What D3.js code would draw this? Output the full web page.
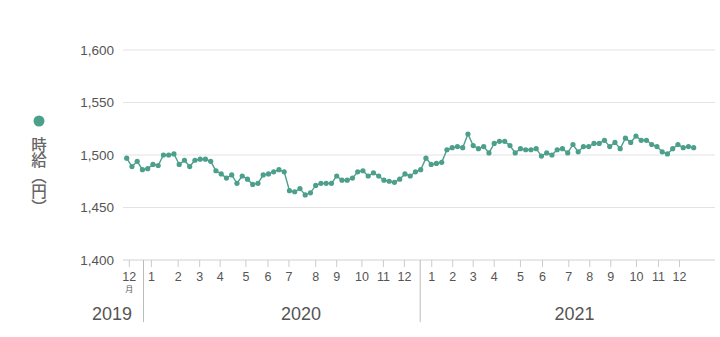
<!DOCTYPE html>
<html>
<head>
<meta charset="utf-8">
<script src="https://cdn.jsdelivr.net/npm/d3@7"></script>
<style>
  body { margin: 0; background: #fff; }
  svg { display: block; font-family: "Liberation Sans", Arial, sans-serif; }
</style>
</head>
<body>
<div id="chart"></div>
<script>
// weekly hourly wage (yen), late Nov 2019 - Dec 2021
const wage = [
  1497, 1489, 1494, 1486, 1487, 1491, 1490, 1500, 1500, 1501,
  1491, 1495, 1489, 1495, 1496, 1496, 1494, 1485, 1482, 1478,
  1481, 1473, 1480, 1477, 1472, 1473, 1481, 1482, 1484, 1486,
  1484, 1466, 1465, 1468, 1462, 1464, 1471, 1473, 1473, 1473,
  1480, 1476, 1476, 1478, 1484, 1485, 1480, 1483, 1480, 1476,
  1475, 1474, 1477, 1482, 1480, 1484, 1486, 1497, 1491, 1492,
  1493, 1505, 1507, 1508, 1507, 1520, 1509, 1506, 1508, 1502,
  1511, 1513, 1513, 1509, 1502, 1506, 1505, 1505, 1506, 1499,
  1502, 1500, 1505, 1506, 1502, 1510, 1503, 1508, 1508, 1511,
  1511, 1514, 1508, 1512, 1506, 1516, 1512, 1518, 1514, 1514,
  1510, 1508, 1503, 1501, 1506, 1510, 1507, 1508, 1507
];

// month ticks (week index where each month starts)
const monthLabels = ["12", "1", "2", "3", "4", "5", "6", "7", "8", "9", "10", "11", "12",
                     "1", "2", "3", "4", "5", "6", "7", "8", "9", "10", "11", "12"];
const monthWeek = [0.5, 4.7, 9.8, 13.9, 17.8, 22.7, 26.9, 30.9, 36, 40, 44.8, 48.9, 52.9,
                   58.1, 62.1, 66, 70, 75, 79.2, 84.2, 88.2, 92.2, 97.1, 101.3, 105.3];

// year bands
const years = ["2019", "2020", "2021"];
const yearCenter = [-2.8, 33.2, 85.3];
const yearBreak = [3.2, 55.9];

const yTicks = [1400, 1450, 1500, 1550, 1600];

const yTitle = "時給（円）";

const width = 720, height = 337;
const color = "#4c9f8b";

let svg = d3.select("#chart")
    .append("svg")
    .attr("width", width)
    .attr("height", height);

let x = d3.scaleLinear()
    .domain([0, wage.length - 1])
    .range([126.7, 693.7]);

let y = d3.scaleLinear()
    .domain([1400, 1600])
    .range([260, 50]);

// gridlines
svg.append("g")
    .selectAll("line")
    .data(yTicks)
    .enter()
    .append("line")
        .attr("x1", 123)
        .attr("x2", 715)
        .attr("y1", d => y(d))
        .attr("y2", d => y(d))
        .attr("stroke", d => d == 1400 ? "#d0d0d0" : "#e3e3e3")
        .attr("stroke-width", 1);

// y labels
svg.append("g")
    .selectAll("text")
    .data(yTicks)
    .enter()
    .append("text")
        .attr("x", 114)
        .attr("y", d => y(d))
        .attr("dy", "0.35em")
        .attr("text-anchor", "end")
        .attr("font-size", 13.5)
        .attr("fill", "#555")
        .text(d => d3.format(",")(d));

// y title: dot + vertical text
svg.append("circle")
    .attr("cx", 39)
    .attr("cy", 121)
    .attr("r", 5.5)
    .attr("fill", color);

svg.append("text")
    .attr("x", 39)
    .attr("y", 137)
    .attr("font-family", "'Noto Sans CJK JP', sans-serif")
    .attr("font-size", 15.5)
    .attr("font-weight", 500)
    .attr("fill", "#666")
    .style("writing-mode", "vertical-rl")
    .text(yTitle);

// month ticks
let ticks = svg.append("g");
ticks.selectAll("line")
    .data(monthWeek)
    .enter()
    .append("line")
        .attr("x1", d => x(d))
        .attr("x2", d => x(d))
        .attr("y1", 260)
        .attr("y2", 267)
        .attr("stroke", "#ccc");

ticks.selectAll("text")
    .data(monthLabels)
    .enter()
    .append("text")
        .attr("x", (d, i) => x(monthWeek[i]))
        .attr("y", 281)
        .attr("text-anchor", "middle")
        .attr("font-size", 12.5)
        .attr("fill", "#555")
        .text(d => d);

svg.append("text")
    .attr("x", x(monthWeek[0]))
    .attr("y", 292)
    .attr("text-anchor", "middle")
    .attr("font-family", "'Noto Sans CJK JP', sans-serif")
    .attr("font-size", 8)
    .attr("fill", "#555")
    .text("月");

// year separators and labels
svg.append("g")
    .selectAll("line")
    .data(yearBreak)
    .enter()
    .append("line")
        .attr("x1", d => x(d))
        .attr("x2", d => x(d))
        .attr("y1", 260)
        .attr("y2", 322)
        .attr("stroke", "#bbb");

svg.append("g")
    .selectAll("text")
    .data(years)
    .enter()
    .append("text")
        .attr("x", (d, i) => x(yearCenter[i]))
        .attr("y", 320)
        .attr("text-anchor", "middle")
        .attr("font-size", 18)
        .attr("fill", "#555")
        .text(d => d);

// line + points
let line = d3.line()
    .x((d, i) => x(i))
    .y(d => y(d));

svg.append("path")
    .datum(wage)
    .attr("d", line)
    .attr("fill", "none")
    .attr("stroke", color)
    .attr("stroke-width", 1.4);

svg.append("g")
    .selectAll("circle")
    .data(wage)
    .enter()
    .append("circle")
        .attr("cx", (d, i) => x(i))
        .attr("cy", d => y(d))
        .attr("r", 2.6)
        .attr("fill", color);
</script>
</body>
</html>
